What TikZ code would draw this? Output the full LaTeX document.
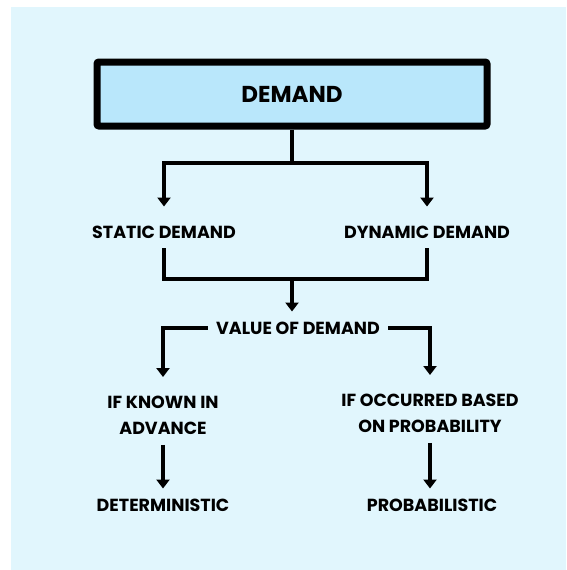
\documentclass[tikz,border=0pt]{standalone}
\usepackage{fontspec}
\setmainfont{Poppins}
\usetikzlibrary{arrows.meta}
\definecolor{panelblue}{HTML}{E1F6FD}
\definecolor{boxblue}{HTML}{B9E7FB}
\tikzset{
	% plain caps text of the chart
	chartlabel/.style={font=\bfseries\fontsize{17.5}{26}\selectfont, inner sep=0pt, align=center},
	% the heading box on top
	titlebox/.style={draw, line width=7pt, rounded corners=2pt, fill=boxblue, minimum width=390pt, minimum height=64pt, font=\bfseries\fontsize{23}{23}\selectfont},
	link/.style={line width=3.2pt},
	arrowlink/.style={link, -{Triangle[width=13pt,length=9pt]}}
}

\begin{document}
\begin{tikzpicture}[x=1pt, y=-1pt]
	% page 566 x 570, light panel
	\useasboundingbox (0,0) rectangle (566,570);
	\fill[panelblue] (11,7) rectangle (566,570);

	\node[titlebox] (title) at (292,94) {DEMAND};

	\node[chartlabel] (static) at (164,232) {STATIC DEMAND};
	\node[chartlabel] (dynamic) at (427,232) {DYNAMIC DEMAND};
	\node[chartlabel, inner xsep=8pt] (value) at (298,328) {VALUE OF DEMAND};
	\node[chartlabel] (known) at (163,415.5) {IF KNOWN IN\\ADVANCE};
	\node[chartlabel] (occurred) at (430,413.5) {IF OCCURRED BASED\\ON PROBABILITY};
	\node[chartlabel] (determ) at (163,505) {DETERMINISTIC};
	\node[chartlabel] (prob) at (432,505) {PROBABILISTIC};

	% junctions
	\coordinate (split) at (292,163);
	\coordinate (merge) at (292,279);

	% demand -> static / dynamic
	\draw[link] (title.south) -- (split);
	\draw[arrowlink, shorten >=19pt] (split) -| (static.north);
	\draw[arrowlink, shorten >=19pt] (split) -| (dynamic.north);

	% both -> value of demand
	\draw[link, shorten <=10pt, shorten >=10pt] (static.south) |- (merge) -| (dynamic.south);
	\draw[arrowlink, shorten >=10pt] (merge) -- (merge |- value.north);

	% value of demand -> cases
	\draw[arrowlink, shorten >=19pt] (value.west) -| (known.north);
	\draw[arrowlink, shorten >=19pt] (value.east) -| (occurred.north);
	\draw[arrowlink, shorten <=10pt, shorten >=10pt] (known.south) -- (known.south |- determ.north);
	\draw[arrowlink, shorten <=10pt, shorten >=10pt] (occurred.south) -- (occurred.south |- prob.north);
\end{tikzpicture}
\end{document}
